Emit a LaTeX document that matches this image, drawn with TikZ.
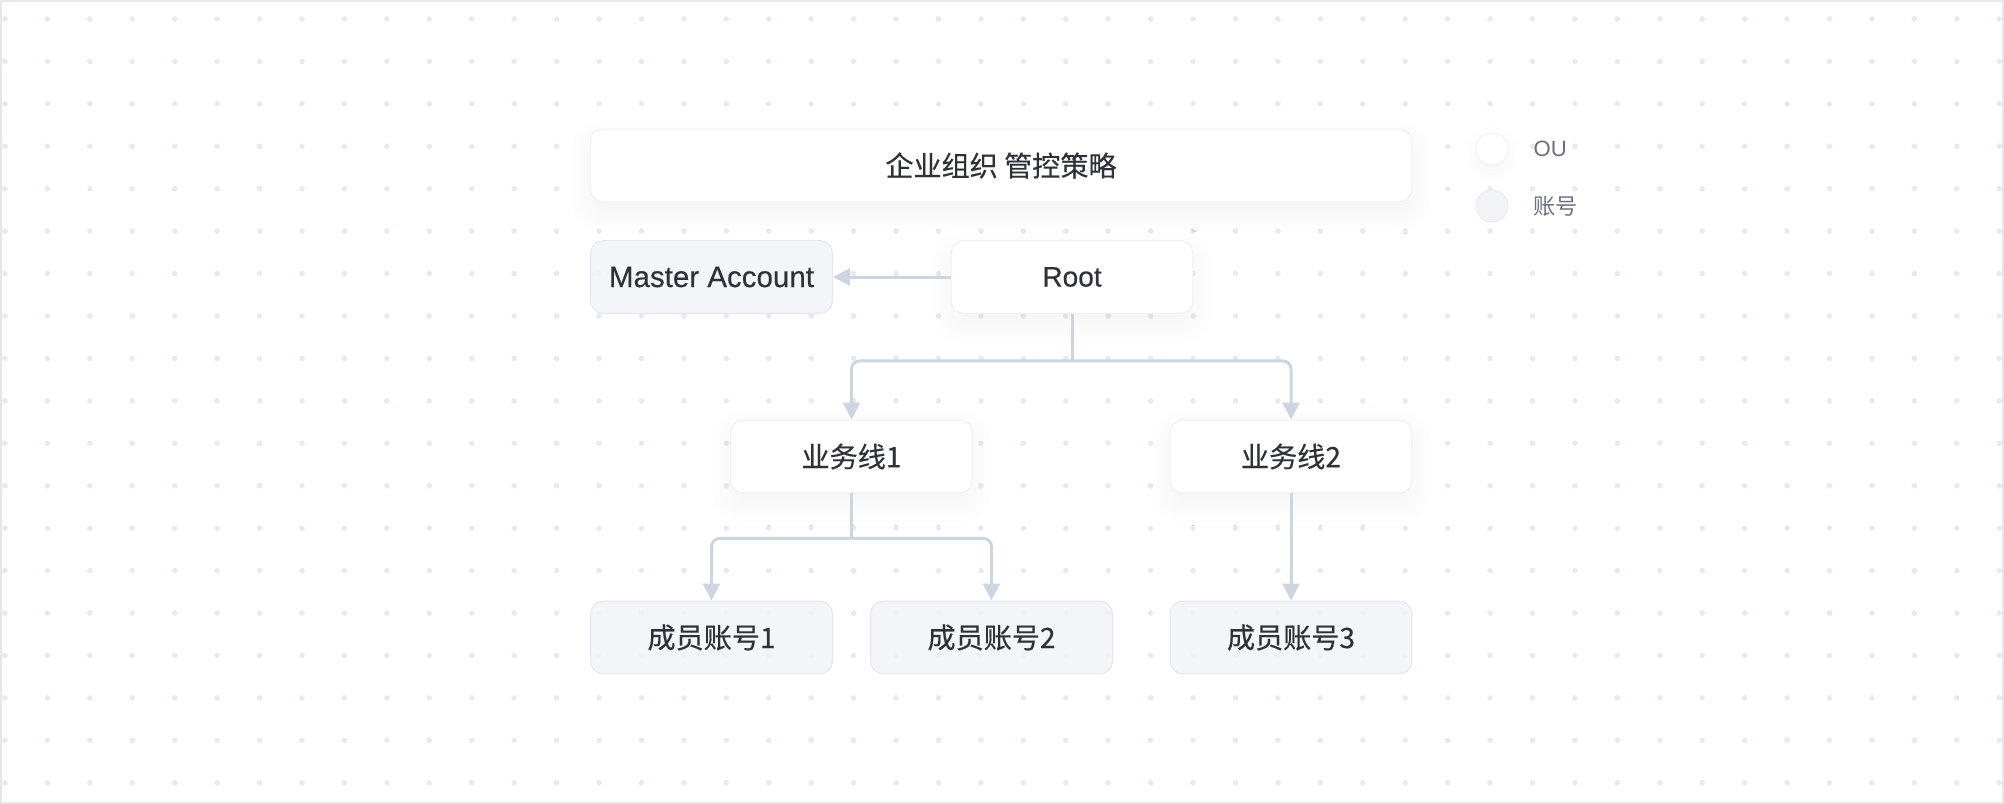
\documentclass[tikz,border=0pt]{standalone}
\usepackage{fontspec}
\setmainfont{Liberation Sans}[FakeBold=0.3]
\newfontfamily\cjk{Noto Sans CJK SC}[FakeBold=0.35]
\newfontfamily\cjklight{Noto Sans CJK SC}
\usetikzlibrary{arrows.meta,positioning,shadows.blur}

\definecolor{dotgray}{HTML}{E7EAF0}
\definecolor{framegray}{HTML}{E5E7EB}
\definecolor{linkgray}{HTML}{CDD5E1}
\definecolor{ouline}{HTML}{EEF0F3}
\definecolor{acctfill}{HTML}{F1F3F6}
\definecolor{acctline}{HTML}{E4E7EC}
\definecolor{textdark}{HTML}{2E3138}
\definecolor{textsoft}{HTML}{6B7080}

\tikzset{
  box/.style={rectangle, rounded corners=0.26cm, line width=0.02cm,
    minimum width=4.84cm, minimum height=1.46cm, text=textdark,
    font=\fontsize{16pt}{18pt}\selectfont},
  ou/.style={box, draw=ouline, fill=white,
    blur shadow={shadow xshift=0cm, shadow yshift=-0.2cm,
      shadow blur radius=0.45cm, shadow opacity=5, shadow blur steps=10}},
  acct/.style={box, draw=acctline, fill=acctfill, fill opacity=0.8, text opacity=1},
  trunk/.style={draw=linkgray, line width=0.06cm},
  link/.style={trunk, rounded corners=0.16cm,
    -{Triangle[length=0.34cm,width=0.34cm]}},
  legendtext/.style={inner sep=0pt, anchor=west, text=textsoft,
    font=\fontsize{12.6pt}{14pt}\selectfont},
}

\begin{document}
\begin{tikzpicture}[x=0.02cm, y=-0.02cm]
  \useasboundingbox (0,0) rectangle (2004,804);
  % dotted backdrop and frame
  \foreach \i in {0,...,47}
    \foreach \j in {0,...,18}
      \fill[dotgray] (5+42.43*\i, 19+42.43*\j) circle (0.056cm);
  \draw[framegray, line width=0.04cm] (1,1) rectangle (2003,803);

  % policy bar
  \node[ou, minimum width=16.44cm] (policy) at (1001,165.5) {\cjk 企业组织 管控策略};

  % tree
  \node[acct, font=\fontsize{16.8pt}{18pt}\selectfont] (master) at (711.5,277) {Master Account};
  \node[ou]   (root)   at (1072,277)  {Root};
  \node[ou]   (line1)  at (851.5,456.5) {\cjk 业务线1};
  \node[ou]   (line2)  at (1291,456.5)  {\cjk 业务线2};
  \node[acct] (member1) at (711.5,637.5) {\cjk 成员账号1};
  \node[acct] (member2) at (991.5,637.5) {\cjk 成员账号2};
  \node[acct] (member3) at (1291,637.5)  {\cjk 成员账号3};

  \draw[link] (root.west) -- (master.east);
  \draw[trunk] (root.south) -- ++(0,47) coordinate (rootsplit);
  \draw[link] (rootsplit) -| (line1.north);
  \draw[link] (rootsplit) -| (line2.north);
  \draw[trunk] (line1.south) -- ++(0,45) coordinate (linesplit);
  \draw[link] (linesplit) -| (member1.north);
  \draw[link] (linesplit) -| (member2.north);
  \draw[link] (line2.south) -- (member3.north);

  % legend
  \node[circle, minimum size=0.64cm, draw=ouline, fill=white,
    blur shadow={shadow xshift=0cm, shadow yshift=-0.1cm,
      shadow blur radius=0.25cm, shadow opacity=5}] (keyou) at (1492,149) {};
  \node[circle, minimum size=0.64cm, draw=acctline, fill=acctfill] (keyacct) at (1492,206) {};
  \node[legendtext, right=0.5cm of keyou]   (keyoutext)   {\fontspec{Liberation Sans}OU};
  \node[legendtext, right=0.5cm of keyacct] (keyaccttext) {\cjklight 账号};
\end{tikzpicture}
\end{document}
